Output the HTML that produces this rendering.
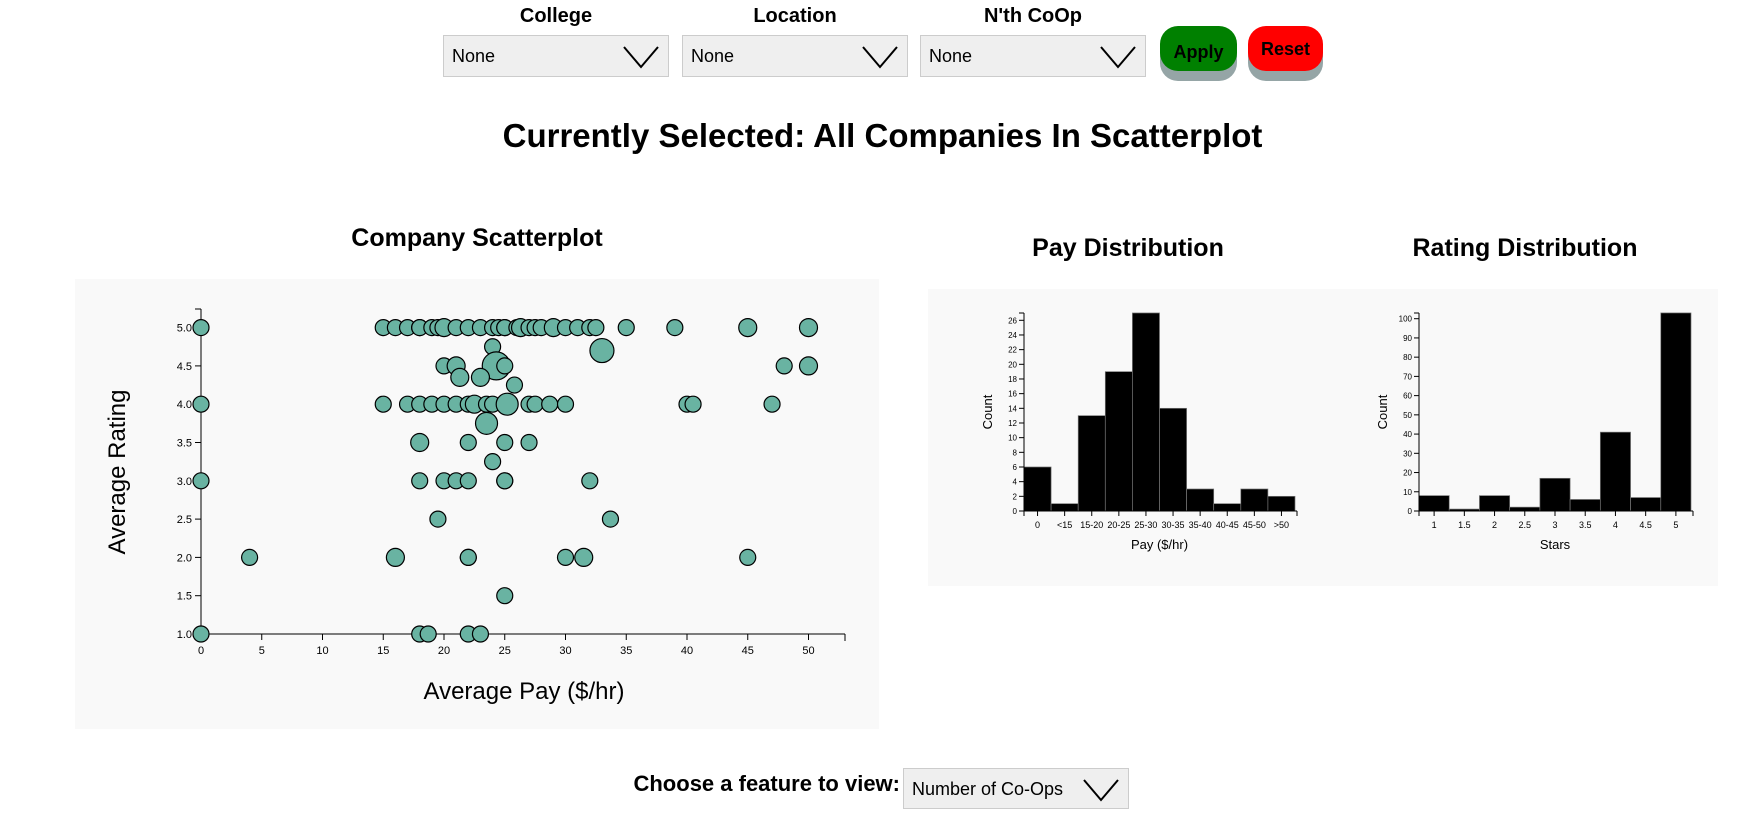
<!DOCTYPE html>
<html><head><meta charset="utf-8">
<style>
body{margin:0;width:1747px;height:821px;background:#fff;position:relative;overflow:hidden;font-family:"Liberation Sans",sans-serif;}
.abs{position:absolute;}
.lbl{font-weight:bold;font-size:20px;text-align:center;}
.sel{background:#efefef;border:1px solid #ccc;box-sizing:border-box;font-size:18px;line-height:40px;padding-left:8px;}
.sel svg{position:absolute;right:8px;top:9px;}
.btn{border-radius:18px;font-weight:bold;font-size:18px;text-align:center;line-height:46px;}
.h2{font-weight:bold;font-size:25px;text-align:center;}
</style></head><body>
<div class="abs lbl" style="left:443px;top:5px;width:226px">College</div>
<div class="abs lbl" style="left:682px;top:5px;width:226px">Location</div>
<div class="abs lbl" style="left:920px;top:5px;width:226px">N'th CoOp</div>
<div class="abs sel" style="left:443px;top:35px;width:226px;height:42px">None<svg width="38" height="24"><polyline points="2,2 19,22 36,2" fill="none" stroke="#000" stroke-width="2"/></svg></div>
<div class="abs sel" style="left:682px;top:35px;width:226px;height:42px">None<svg width="38" height="24"><polyline points="2,2 19,22 36,2" fill="none" stroke="#000" stroke-width="2"/></svg></div>
<div class="abs sel" style="left:920px;top:35px;width:226px;height:42px">None<svg width="38" height="24"><polyline points="2,2 19,22 36,2" fill="none" stroke="#000" stroke-width="2"/></svg></div>
<div class="abs" style="left:1160px;top:36px;width:77px;height:45px;border-radius:18px;background:#95a5a6"></div>
<div class="abs btn" style="left:1160px;top:26px;width:77px;height:45px;background:#008000;line-height:52px">Apply</div>
<div class="abs" style="left:1248px;top:36px;width:75px;height:45px;border-radius:18px;background:#95a5a6"></div>
<div class="abs btn" style="left:1248px;top:26px;width:75px;height:45px;background:#ff0000">Reset</div>
<div class="abs" style="left:0;top:117px;width:1765px;text-align:center;font-weight:bold;font-size:33px">Currently Selected: All Companies In Scatterplot</div>
<div class="abs h2" style="left:277px;top:224px;width:400px">Company Scatterplot</div>
<div class="abs h2" style="left:928px;top:234px;width:400px">Pay Distribution</div>
<div class="abs h2" style="left:1325px;top:234px;width:400px">Rating Distribution</div>
<div class="abs" style="left:75px;top:279px;width:804px;height:450px;background:#f9f9f9"></div>
<div class="abs" style="left:928px;top:289px;width:790px;height:297px;background:#f9f9f9"></div>
<svg id="chart" class="abs" style="left:0;top:0" width="1747" height="821"></svg>
<div class="abs" style="left:580px;top:771px;width:320px;text-align:right;font-weight:bold;font-size:22px">Choose a feature to view:</div>
<div class="abs sel" style="left:903px;top:768px;width:226px;height:41px;font-size:18px">Number of Co-Ops<svg width="38" height="24"><polyline points="2,2 19,22 36,2" fill="none" stroke="#000" stroke-width="2"/></svg></div>
<script>
const payVals=[0,15,16,17,18,18,19,19.5,20,21,22,23,24,24.5,25,25,26,26.3,27,27.5,28,29,30,31,32,32.5,35,39,45,50,
24,33,20,21,24.3,25,48,50,21.3,23,25.8,
0,15,17,18,19,20,21,22,22.5,23.5,24,25,25.2,27,27.5,28.7,30,40,40.5,47,
23.5,18,22,25,27,24,0,18,20,21,22,25,25,32,19.5,33.7,4,16,22,22,30,31.5,45,25,0,18,18.7,22,23];
const ratingVals=[5,5,5,5,5,5,5,5,5,5,5,5,5,5,5,5,5,5,5,5,5,5,5,5,5,5,5,5,5,5,
4.75,4.7,4.5,4.5,4.5,4.5,4.5,4.5,4.35,4.35,4.25,
4,4,4,4,4,4,4,4,4,4,4,4,4,4,4,4,4,4,4,4,
3.75,3.5,3.5,3.5,3.5,3.25,3,3,3,3,3,3,3,3,2.5,2.5,2,2,2,2,2,2,2,1.5,1,1,1,1,1];
const sizeVals=[8,8,8,8,8,8,8,8,9,8,8,8,8,8,8,8,8,9,8,8,8,9,8,8,8,8,8,8,9,9,
8,12,8,9,14,8,8,9,9,9,8,
8,8,8,8,8,8,8,8,9,8,8,8,11,8,8,8,8,8,8,8,
11,9,8,8,8,8,8,8,8,8,8,8,8,8,8,8,8,9,8,8,8,9,8,8,8,8,8,8,8];
const xTicks=[0,5,10,15,20,25,30,35,40,45,50];
const yTicks=[1.0,1.5,2.0,2.5,3.0,3.5,4.0,4.5,5.0];
const payBins=["0","<15","15-20","20-25","25-30","30-35","35-40","40-45","45-50",">50"];
const payCounts=[6,1,13,19,27,14,3,1,3,2];
const payTicks=[0,2,4,6,8,10,12,14,16,18,20,22,24,26];
const starBins=["1","1.5","2","2.5","3","3.5","4","4.5","5"];
const starCounts=[8,1,8,2,17,6,41,7,103];
const starTicks=[0,10,20,30,40,50,60,70,80,90,100];

const svg=document.getElementById('chart');
const NS='http://www.w3.org/2000/svg';
function mk(tag,at,parent){const e=document.createElementNS(NS,tag);for(const k in at)e.setAttribute(k,at[k]);(parent||svg).appendChild(e);return e;}
function txt(s,at,parent){const e=mk('text',at,parent);e.textContent=s;return e;}

const sx=v=>201+v*12.15, sy=v=>634-(v-1)*76.6;
let g=mk('g',{});


mk('line',{x1:201,y1:309,x2:201,y2:634,stroke:'#000'},g);
mk('line',{x1:195,y1:309,x2:201,y2:309,stroke:'#000'},g);
mk('line',{x1:201,y1:634,x2:845,y2:634,stroke:'#000'},g);
mk('line',{x1:845,y1:634,x2:845,y2:641,stroke:'#000'},g);
xTicks.forEach(v=>{mk('line',{x1:sx(v),y1:634,x2:sx(v),y2:640,stroke:'#000'},g);
 const t=txt(v,{x:sx(v),y:654,'font-size':11,'text-anchor':'middle'},g);
 });
yTicks.forEach(v=>{mk('line',{x1:195,y1:sy(v),x2:201,y2:sy(v),stroke:'#000'},g);
 const t=txt(v.toFixed(1),{x:192,y:sy(v)+4,'font-size':11,'text-anchor':'end'},g);
 });
let yt=txt('Average Rating',{x:0,y:0,'font-size':24,'text-anchor':'middle',transform:'translate(125,472) rotate(-90)'});

let xt=txt('Average Pay ($/hr)',{x:524,y:699,'font-size':24,'text-anchor':'middle'});

payVals.forEach((p,i)=>{const c=mk('circle',{cx:sx(p),cy:sy(ratingVals[i]),r:sizeVals[i],fill:'#69b3a2',stroke:'#000','stroke-width':1.2});
 });

function hist(name,x0,x1,y0,yTop,maxV,bins,counts,ticks,ylabelX,xlabel){
 const n=bins.length,bw=(x1-x0)/n,ys=v=>y0-v*(y0-yTop)/maxV;
 const hg=mk('g',{});
 
 
 counts.forEach((c,i)=>{const r=mk('rect',{x:x0+i*bw,y:ys(c),width:bw,height:y0-ys(c),fill:'#000',stroke:'#777','stroke-width':0.7},hg);
  
  mk('line',{x1:x0+(i+.5)*bw,y1:y0,x2:x0+(i+.5)*bw,y2:y0+5,stroke:'#000'},hg);
  const t=txt(bins[i],{x:x0+(i+.5)*bw,y:y0+17,'font-size':9,'text-anchor':'middle'},hg);
  });
 mk('line',{x1:x0,y1:y0,x2:x1+2,y2:y0,stroke:'#000'},hg);
 mk('line',{x1:x0,y1:y0+5,x2:x0,y2:313,stroke:'#000'},hg);
 mk('line',{x1:x0-5,y1:313,x2:x0,y2:313,stroke:'#000'},hg);
 mk('line',{x1:x1+2,y1:y0,x2:x1+2,y2:y0+5,stroke:'#000'},hg);
 ticks.forEach(v=>{mk('line',{x1:x0-5,y1:ys(v),x2:x0,y2:ys(v),stroke:'#000'},hg);
  const t=txt(v,{x:x0-7,y:ys(v)+3,'font-size':8,'text-anchor':'end'},hg);
  });
 const yl=txt('Count',{x:0,y:0,'font-size':13,'text-anchor':'middle',transform:`translate(${ylabelX},412) rotate(-90)`},hg);
 
 const xl=txt(xlabel,{x:(x0+x1)/2,y:549,'font-size':13,'text-anchor':'middle'},hg);
 
}
hist('pay-histogram',1024,1295,511,320.3,26,payBins,payCounts,payTicks,992,'Pay ($/hr)');
hist('rating-histogram',1419,1691,511,318.7,100,starBins,starCounts,starTicks,1387,'Stars');
</script>
</body></html>
